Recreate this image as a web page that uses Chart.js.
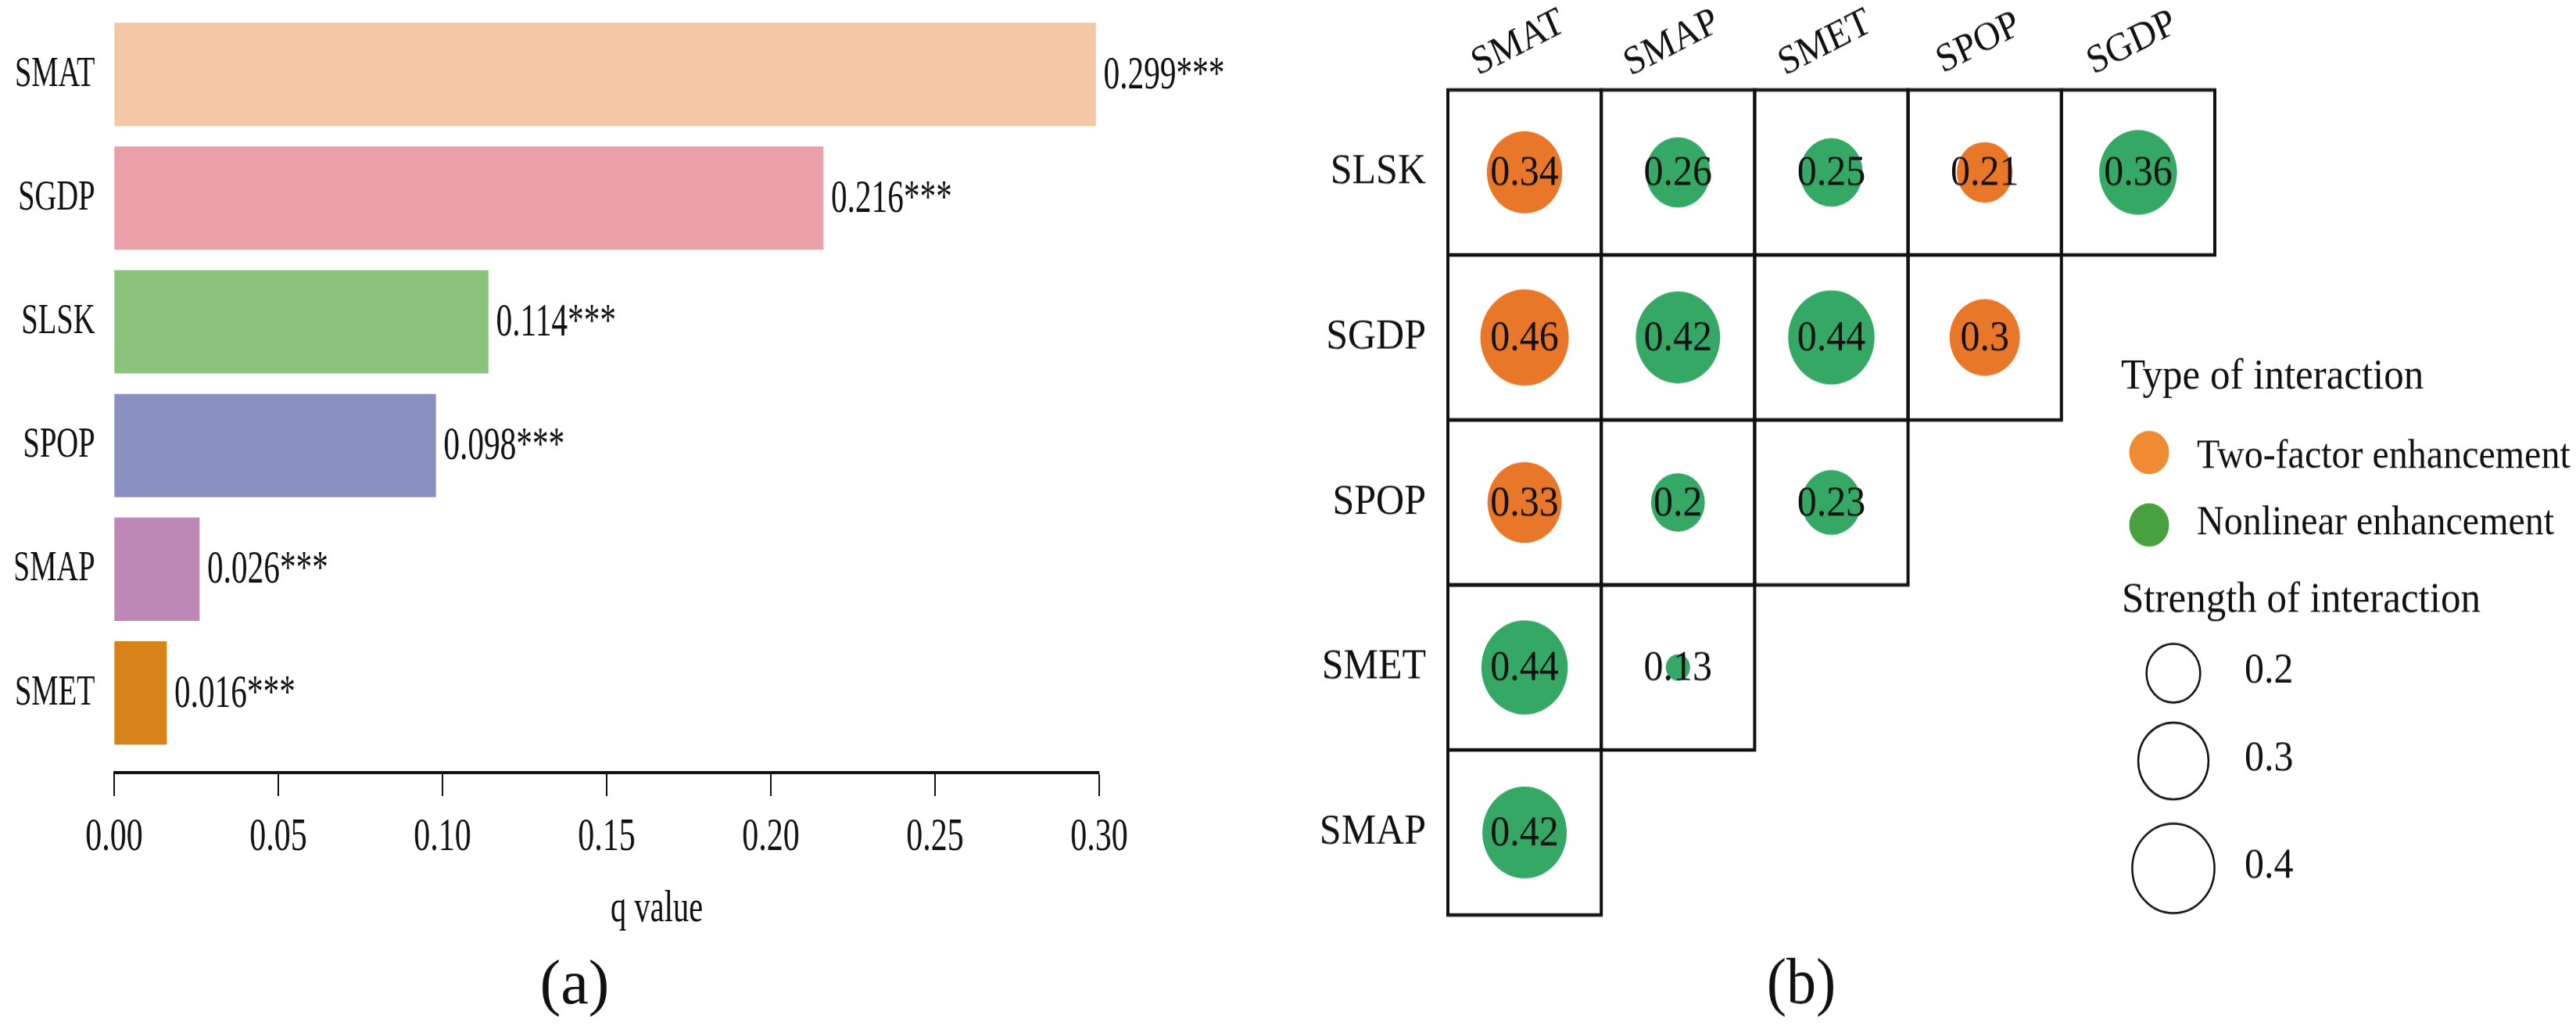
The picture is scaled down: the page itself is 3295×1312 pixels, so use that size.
<!DOCTYPE html>
<html>
<head>
<meta charset="utf-8">
<script src="https://cdn.jsdelivr.net/npm/chart.js@4.4.1/dist/chart.umd.min.js"></script>
<style>
  html, body { margin: 0; padding: 0; background: #fff; }
  #wrap { position: relative; width: 3295px; height: 1312px; overflow: hidden; background: #fff; }
</style>
</head>
<body>
<div id="wrap">
  <!-- panel (a) is horizontally squeezed in the source figure, panel (b) slightly stretched -->
  <canvas id="chartA" width="2400" height="1312" style="position:absolute;left:0;top:0;width:1680px;height:1312px;"></canvas>
  <canvas id="chartB" width="1695" height="1204" style="position:absolute;left:1600px;top:0;width:1695px;height:1312px;"></canvas>
</div>
<script>
// (a) factor detector q values
const qFactors = ['SMAT', 'SGDP', 'SLSK', 'SPOP', 'SMAP', 'SMET'];
const qValues = [0.299, 0.216, 0.114, 0.098, 0.026, 0.016];
const qStars = ['***', '***', '***', '***', '***', '***'];
const qTicks = [0, 0.05, 0.10, 0.15, 0.20, 0.25, 0.30];
const barColors = ['#F3C8A6', '#E9A0A8', '#8CC27C', '#8A91C0', '#BD88B6', '#D8831A'];

// (b) interaction detector
const colFactors = ['SMAT', 'SMAP', 'SMET', 'SPOP', 'SGDP'];
const rowFactors = ['SLSK', 'SGDP', 'SPOP', 'SMET', 'SMAP'];
const interValues = [
  [0.34, 0.26, 0.25, 0.21, 0.36],
  [0.46, 0.42, 0.44, 0.3],
  [0.33, 0.2, 0.23],
  [0.44, 0.13],
  [0.42]
];
// T = two-factor enhancement, N = nonlinear enhancement
const interTypes = [
  ['T', 'N', 'N', 'T', 'N'],
  ['T', 'N', 'N', 'T'],
  ['T', 'N', 'N'],
  ['N', 'N'],
  ['N']
];
const sizeBreaks = [0.2, 0.3, 0.4];

const SQ = 0.7; // css squeeze of canvas A
const FONT = "'Liberation Serif', 'Times New Roman', serif";
const INK = '#111';

// ---------- panel (a) ----------
const barLabels = {
  id: 'barLabels',
  afterDatasetsDraw(chart) {
    const ctx = chart.ctx;
    const meta = chart.getDatasetMeta(0);
    ctx.save();
    ctx.fillStyle = INK;
    ctx.font = '59px ' + FONT;
    ctx.textAlign = 'left';
    ctx.textBaseline = 'middle';
    meta.data.forEach((bar, i) => {
      ctx.fillText(qValues[i].toFixed(3) + qStars[i], bar.x + 14, bar.y + 2);
    });
    ctx.textAlign = 'center';
    ctx.font = '58px ' + FONT;
    ctx.fillText('q value', 1200, 1163);
    // the panel tag is not squeezed in the source
    ctx.translate(1050, 1262);
    ctx.scale(1 / SQ, 1);
    ctx.font = '80px ' + FONT;
    ctx.fillText('(a)', 0, 0);
    ctx.restore();
  }
};

new Chart(document.getElementById('chartA'), {
  type: 'bar',
  data: {
    datasets: [{
      data: qValues.map((v, i) => ({ x: v, y: i })),
      backgroundColor: barColors,
      borderWidth: 0,
      barPercentage: 0.835,
      categoryPercentage: 1
    }]
  },
  options: {
    indexAxis: 'y',
    responsive: false,
    devicePixelRatio: 1,
    animation: false,
    events: [],
    layout: { autoPadding: false, padding: { left: 28.6, right: 391.4, top: 16, bottom: 204 } },
    plugins: { legend: { display: false }, tooltip: { enabled: false } },
    scales: {
      x: {
        type: 'linear',
        position: 'bottom',
        min: 0,
        max: 0.3,
        afterBuildTicks: s => { s.ticks = qTicks.map(v => ({ value: v })); },
        afterFit: s => { s.height = 120; s.paddingLeft = 0; s.paddingRight = 0; },
        ticks: {
          callback: v => v.toFixed(2),
          font: { family: FONT, size: 60 },
          color: INK,
          padding: 17,
          maxRotation: 0,
          autoSkip: false
        },
        grid: { drawOnChartArea: false, drawTicks: true, tickLength: 30, tickWidth: 3, tickColor: INK },
        border: { display: true, color: INK, width: 4 }
      },
      y: {
        type: 'linear',
        position: 'left',
        offset: false,
        min: -0.5,
        max: 5.644,
        reverse: true,
        afterBuildTicks: s => { s.ticks = qFactors.map((f, i) => ({ value: i })); },
        afterFit: s => { s.width = 180; s.paddingTop = 0; s.paddingBottom = 0; },
        ticks: {
          callback: v => qFactors[v],
          font: { family: FONT, size: 55 },
          color: INK,
          padding: 35,
          autoSkip: false
        },
        grid: { display: false, drawTicks: false, offset: false },
        border: { display: false }
      }
    }
  },
  plugins: [barLabels]
});

// ---------- panel (b) ----------
const allInter = interValues.flat();
const vMin = Math.min(...allInter);
const vMax = Math.max(...allInter);
// area-style size scale, diameter range 31..113 px
function sizeScale(v) {
  return (31 + 82 * Math.sqrt((v - vMin) / (vMax - vMin))) / 2;
}

const points = { T: [], N: [] };
interValues.forEach((row, j) => {
  row.forEach((v, i) => {
    points[interTypes[j][i]].push({ x: i, y: j, v: v });
  });
});

const interDecor = {
  id: 'interDecor',
  beforeDatasetsDraw(chart) {
    const { ctx, scales: { x, y } } = chart;
    ctx.save();
    ctx.strokeStyle = INK;
    ctx.lineWidth = 4;
    interValues.forEach((row, j) => {
      row.forEach((v, i) => {
        const x0 = x.getPixelForValue(i - 0.5), x1 = x.getPixelForValue(i + 0.5);
        const y0 = y.getPixelForValue(j - 0.5), y1 = y.getPixelForValue(j + 0.5);
        ctx.strokeRect(x0, y0, x1 - x0, y1 - y0);
      });
    });
    ctx.restore();
  },
  afterDatasetsDraw(chart) {
    const { ctx, scales: { x } } = chart;
    ctx.save();
    ctx.fillStyle = INK;

    // values on the bubbles
    ctx.font = '50px ' + FONT;
    ctx.textAlign = 'center';
    ctx.textBaseline = 'middle';
    chart.data.datasets.forEach((ds, d) => {
      chart.getDatasetMeta(d).data.forEach((pt, k) => {
        ctx.fillText(String(ds.data[k].v), pt.x, pt.y + 2);
      });
    });

    // rotated column names
    ctx.font = '47px ' + FONT;
    colFactors.forEach((name, i) => {
      ctx.save();
      ctx.translate(x.getPixelForValue(i) - 8, 51);
      ctx.rotate(-25 * Math.PI / 180);
      ctx.fillText(name, 0, 0);
      ctx.restore();
    });

    // legend: type of interaction
    ctx.textAlign = 'left';
    ctx.textBaseline = 'alphabetic';
    ctx.font = '51px ' + FONT;
    ctx.fillText('Type of interaction', 1113, 456);
    ctx.font = '48px ' + FONT;
    ctx.fillText('Two-factor enhancement', 1210, 549);
    ctx.fillText('Nonlinear enhancement', 1210, 627);
    ctx.fillStyle = '#EE8B33';
    ctx.beginPath(); ctx.arc(1149, 531, 25.5, 0, Math.PI * 2); ctx.fill();
    ctx.fillStyle = '#47A13F';
    ctx.beginPath(); ctx.arc(1149, 616, 25.5, 0, Math.PI * 2); ctx.fill();

    // legend: strength of interaction
    ctx.fillStyle = INK;
    ctx.font = '51px ' + FONT;
    ctx.fillText('Strength of interaction', 1114, 718);
    const keyY = [790, 893, 1019];
    ctx.strokeStyle = INK;
    ctx.lineWidth = 2.5;
    ctx.font = '50px ' + FONT;
    ctx.textBaseline = 'middle';
    sizeBreaks.forEach((b, k) => {
      ctx.beginPath();
      ctx.arc(1180, keyY[k], sizeScale(b), 0, Math.PI * 2);
      ctx.stroke();
      ctx.fillText(String(b), 1271, keyY[k] - 2);
    });

    // panel tag
    ctx.textAlign = 'center';
    ctx.font = '76px ' + FONT;
    ctx.fillText('(b)', 704, 1157);
    ctx.restore();
  }
};

new Chart(document.getElementById('chartB'), {
  type: 'bubble',
  data: {
    datasets: [
      {
        label: 'Two-factor enhancement',
        data: points.T,
        backgroundColor: '#E8772A',
        borderWidth: 0,
        radius: c => sizeScale(c.raw.v)
      },
      {
        label: 'Nonlinear enhancement',
        data: points.N,
        backgroundColor: '#35A866',
        borderWidth: 0,
        radius: c => sizeScale(c.raw.v)
      }
    ]
  },
  options: {
    responsive: false,
    devicePixelRatio: 1,
    animation: false,
    events: [],
    layout: { autoPadding: false, padding: { left: 72, right: 462, top: 105.5, bottom: 130.3 } },
    plugins: { legend: { display: false }, tooltip: { enabled: false } },
    scales: {
      x: {
        type: 'linear',
        min: -0.5,
        max: 4.5,
        display: false
      },
      y: {
        type: 'linear',
        position: 'left',
        min: -0.5,
        max: 4.5,
        reverse: true,
        afterBuildTicks: s => { s.ticks = rowFactors.map((f, i) => ({ value: i })); },
        afterFit: s => { s.width = 180; s.paddingTop = 0; s.paddingBottom = 0; },
        ticks: {
          callback: v => rowFactors[v],
          font: { family: FONT, size: 50 },
          color: INK,
          padding: 28,
          autoSkip: false
        },
        grid: { display: false, drawTicks: false },
        border: { display: false }
      }
    }
  },
  plugins: [interDecor]
});
</script>
</body>
</html>
